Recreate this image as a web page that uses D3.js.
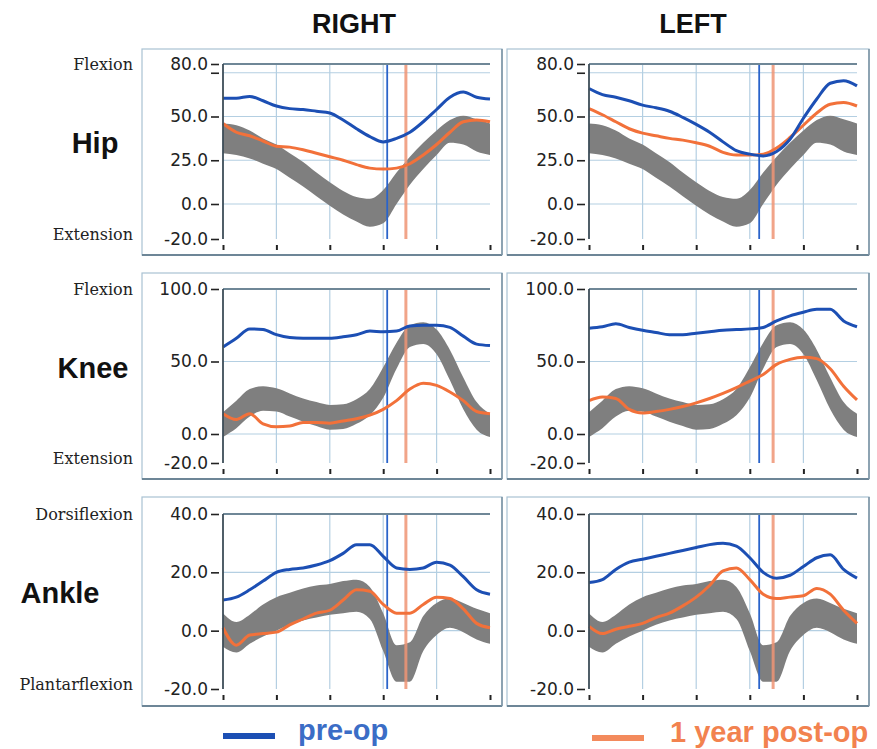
<!DOCTYPE html>
<html>
<head>
<meta charset="utf-8">
<script src="https://cdn.jsdelivr.net/npm/d3@7"></script>
<style>
  body { margin: 0; background: #fff; }
  svg { display: block; }
</style>
</head>
<body>
<script>
// gait cycle, percent
var gaitPct = [0, 5, 10, 15, 20, 25, 30, 35, 40, 45, 50, 55, 60, 65, 70, 75, 80, 85, 90, 95, 100]
var xTicks = [0, 20, 40, 60, 80, 100]

// normal band (mean +/- sd), same for both sides
var hipBandHi = [46, 45, 42, 37.5, 34, 29, 24, 18, 12.5, 7.5, 4, 3, 8, 18, 27, 35, 42, 48, 50.5, 48.5, 46]
var hipBandLo = [29, 28, 26, 23, 20, 15, 10, 4.5, -1, -6, -10, -13, -11, 0, 11, 20, 28, 35, 34, 30, 28]
var kneeBandHi = [15, 23, 31, 33, 31.5, 28, 24.5, 22, 20, 20.5, 24, 31, 46, 63, 75, 77, 72, 58, 39, 22, 14]
var kneeBandLo = [-2, 4, 12, 16, 15.5, 12, 8.5, 5.5, 3, 3.5, 7, 13, 25, 45, 60, 62, 55, 37, 17, 3, -2]
var ankleBandHi = [6, 3, 5.5, 9, 11.5, 13, 14.5, 15.5, 16, 17, 17.5, 15, 6, -5, -4, 5, 9.5, 11, 9.5, 7.5, 6]
var ankleBandLo = [-5.5, -7.5, -4.5, -2, 0, 2, 3.5, 4.5, 5.5, 6, 6.5, 4, -7, -17.5, -17.5, -7, -1.5, 1, -0.5, -3, -4.5]

// RIGHT side
var hipRightPre = [60.5, 60.5, 61.5, 59, 56, 54.5, 54, 53, 52, 48, 43, 38.5, 35.5, 37.5, 41, 47, 54, 61, 64, 61, 60]
var hipRightPost = [46, 41, 39, 36, 33, 32.5, 31, 29, 27, 25, 22.5, 20.5, 20, 20.5, 23, 28, 34, 41, 47, 48, 47]
var kneeRightPre = [60, 66, 72.5, 72, 68.5, 66.5, 66, 66, 66, 67, 68.5, 71, 70.5, 71, 74.5, 75, 75, 73.5, 67.5, 62, 61]
var kneeRightPost = [14, 10, 14, 7, 5, 5.5, 8, 8, 7.5, 9, 10.5, 13, 17, 23, 31, 35, 33.5, 29, 23, 15.5, 14]
var ankleRightPre = [10.5, 11.5, 14, 17, 20, 21, 21.5, 22.5, 24, 26.5, 29.5, 29.5, 25.5, 21.5, 21, 21.5, 23.5, 22.5, 18.5, 14, 12.5]
var ankleRightPost = [1, -5, -1.5, -1, -0.5, 2, 4, 6, 7, 10.5, 14, 13.5, 9, 6, 6, 9, 11.5, 11, 7.5, 2.5, 1]

// LEFT side
var hipLeftPre = [66, 62.5, 61, 59, 56.5, 55, 53, 49.5, 45.5, 41, 35.5, 30.5, 28.5, 27.5, 30, 37, 49, 60, 69, 70.5, 67.5]
var hipLeftPost = [54.5, 51, 47, 43, 40.5, 39, 37.5, 36.5, 35, 33, 29.5, 28, 28, 28.5, 32, 38, 45, 52, 57, 58, 56]
var kneeLeftPre = [73, 74, 76, 73.5, 71.5, 70, 68.5, 68.5, 69.5, 70.5, 71.5, 72, 72.5, 73.5, 78, 81.5, 84, 86, 86, 78, 74]
var kneeLeftPost = [23, 25.5, 24.5, 17, 14.5, 15.5, 17, 19, 21.5, 24.5, 28, 32, 36.5, 41, 48, 51.5, 53, 52, 45, 33, 23.5]
var ankleLeftPre = [16.5, 17.5, 21, 23.5, 24.5, 25.5, 26.5, 27.5, 28.5, 29.5, 30, 29, 25, 20, 18, 19, 22, 25, 26, 21, 18]
var ankleLeftPost = [1.5, -1, 0.5, 1.5, 2.5, 4.5, 6, 8.5, 11.5, 15.5, 20.5, 21.5, 17.5, 12.5, 11, 11.5, 12, 14.5, 12.5, 7, 2.5]

// toe-off markers, percent of cycle
var toeOffPre = [61.5, 63.5]
var toeOffPost = [68.5, 68.7]

var sides = ['RIGHT', 'LEFT']

var blue = '#1c4fb4'
var orange = '#f2713a'

var width = 877, height = 749

var cols = [
  { frame: [142, 502], plot: [223, 490], title: 354 },
  { frame: [507, 869], plot: [589, 857], title: 693 }
]

var joints = [
  { name: 'Hip', labelX: 95, top: 'Flexion', bottom: 'Extension',
    domain: [-20, 80], ticks: [80, 75, 50, 25, 0, -20], grid: [75, 50, 25, 0],
    frame: [49, 255], plot: [64, 239],
    bandLo: hipBandLo, bandHi: hipBandHi,
    pre: [hipRightPre, hipLeftPre], post: [hipRightPost, hipLeftPost] },
  { name: 'Knee', labelX: 93, top: 'Flexion', bottom: 'Extension',
    domain: [-20, 100], ticks: [100, 50, 0, -20], grid: [50, 0],
    frame: [273, 479], plot: [289, 463],
    bandLo: kneeBandLo, bandHi: kneeBandHi,
    pre: [kneeRightPre, kneeLeftPre], post: [kneeRightPost, kneeLeftPost] },
  { name: 'Ankle', labelX: 60, top: 'Dorsiflexion', bottom: 'Plantarflexion',
    domain: [-20, 40], ticks: [40, 20, 0, -20], grid: [20, 0],
    frame: [497, 706], plot: [514, 689],
    bandLo: ankleBandLo, bandHi: ankleBandHi,
    pre: [ankleRightPre, ankleLeftPre], post: [ankleRightPost, ankleLeftPost] }
]

var svg = d3.select('body').append('svg')
  .attr('width', width)
  .attr('height', height)
  .style('font-family', 'Liberation Sans, Arial, sans-serif')

// column titles
svg.selectAll('text.side')
  .data(sides)
  .enter().append('text')
  .attr('class', 'side')
  .attr('x', function (d, i) { return cols[i].title })
  .attr('y', 33)
  .attr('text-anchor', 'middle')
  .attr('font-size', 27)
  .attr('font-weight', 'bold')
  .attr('fill', '#111')
  .text(function (d) { return d })

joints.forEach(function (j) {
  // row labels
  svg.append('text')
    .attr('x', j.labelX).attr('y', (j.plot[0] + j.plot[1]) / 2 - 6)
    .attr('text-anchor', 'middle')
    .attr('dominant-baseline', 'middle')
    .attr('font-size', 29).attr('font-weight', 'bold').attr('fill', '#111')
    .text(j.name)

  svg.append('text')
    .attr('x', 133).attr('y', j.plot[0] + 1)
    .attr('text-anchor', 'end').attr('dominant-baseline', 'middle')
    .attr('font-family', 'DejaVu Serif, serif').attr('font-size', 16).attr('fill', '#222')
    .text(j.top)

  svg.append('text')
    .attr('x', 133).attr('y', j.plot[1] - 4)
    .attr('text-anchor', 'end').attr('dominant-baseline', 'middle')
    .attr('font-family', 'DejaVu Serif, serif').attr('font-size', 16).attr('fill', '#222')
    .text(j.bottom)

  cols.forEach(function (c, si) { drawPanel(j, c, si) })
})

function drawPanel (j, c, si) {
  var g = svg.append('g')

  // outer frame
  g.append('rect')
    .attr('x', c.frame[0]).attr('y', j.frame[0])
    .attr('width', c.frame[1] - c.frame[0]).attr('height', j.frame[1] - j.frame[0])
    .attr('fill', '#fff').attr('stroke', '#a9c2d3').attr('stroke-width', 1.2)
  g.append('line')
    .attr('x1', c.frame[0]).attr('x2', c.frame[1])
    .attr('y1', j.frame[1]).attr('y2', j.frame[1])
    .attr('stroke', '#6d8697').attr('stroke-width', 2)
  g.append('line')
    .attr('x1', c.frame[1]).attr('x2', c.frame[1])
    .attr('y1', j.frame[0]).attr('y2', j.frame[1])
    .attr('stroke', '#7d95a5').attr('stroke-width', 1.6)

  var x = d3.scaleLinear().domain([0, 100]).range(c.plot)
  var y = d3.scaleLinear().domain(j.domain).range([j.plot[1], j.plot[0]])

  // grid
  g.selectAll('line.hgrid')
    .data(j.grid)
    .enter().append('line')
    .attr('class', 'hgrid')
    .attr('x1', c.plot[0]).attr('x2', c.plot[1])
    .attr('y1', function (d) { return y(d) }).attr('y2', function (d) { return y(d) })
    .attr('stroke', '#b4cfe2').attr('stroke-width', 1.2)

  g.selectAll('line.vgrid')
    .data(xTicks.slice(1, -1))
    .enter().append('line')
    .attr('class', 'vgrid')
    .attr('x1', function (d) { return x(d) }).attr('x2', function (d) { return x(d) })
    .attr('y1', j.plot[0]).attr('y2', j.plot[1])
    .attr('stroke', '#b4cfe2').attr('stroke-width', 1.2)

  // normal band
  var area = d3.area()
    .x(function (d, i) { return x(gaitPct[i]) })
    .y0(function (d, i) { return y(j.bandLo[i]) })
    .y1(function (d) { return y(d) })
    .curve(d3.curveMonotoneX)

  g.append('path')
    .datum(j.bandHi)
    .attr('d', area)
    .attr('fill', '#7f7f7f')

  // toe-off markers
  g.append('line')
    .attr('x1', x(toeOffPost[si])).attr('x2', x(toeOffPost[si]))
    .attr('y1', j.plot[0]).attr('y2', j.plot[1])
    .attr('stroke', '#ef9474').attr('stroke-opacity', 0.85).attr('stroke-width', 3)
  g.append('line')
    .attr('x1', x(toeOffPre[si])).attr('x2', x(toeOffPre[si]))
    .attr('y1', j.plot[0]).attr('y2', j.plot[1])
    .attr('stroke', '#2a64ca').attr('stroke-width', 1.8)

  var line = d3.line()
    .x(function (d, i) { return x(gaitPct[i]) })
    .y(function (d) { return y(d) })
    .curve(d3.curveMonotoneX)

  g.append('path')
    .datum(j.post[si])
    .attr('d', line)
    .attr('fill', 'none').attr('stroke', orange).attr('stroke-width', 3)

  g.append('path')
    .datum(j.pre[si])
    .attr('d', line)
    .attr('fill', 'none').attr('stroke', blue).attr('stroke-width', 3)

  // top border and left axis line
  g.append('line')
    .attr('x1', c.plot[0]).attr('x2', c.plot[1])
    .attr('y1', j.plot[0]).attr('y2', j.plot[0])
    .attr('stroke', '#6f8797').attr('stroke-width', 1.8)
  g.append('line')
    .attr('x1', c.plot[0]).attr('x2', c.plot[0])
    .attr('y1', j.plot[0]).attr('y2', j.plot[1])
    .attr('stroke', '#3d4d58').attr('stroke-width', 1.8)

  // y axis
  var yAxis = d3.axisLeft(y)
    .tickValues(j.ticks)
    .tickSize(8)
    .tickPadding(3)
    .tickFormat(function (d) { return d === 75 ? '' : d.toFixed(1) })

  var ya = g.append('g')
    .attr('transform', 'translate(' + (c.plot[0] - 4) + ',0)')
    .call(yAxis)
  ya.select('.domain').remove()
  ya.selectAll('line').attr('stroke', '#222').attr('stroke-width', 1.6)
  ya.selectAll('text')
    .attr('font-size', 17).attr('fill', '#222')
    .attr('font-family', 'DejaVu Sans, Verdana, sans-serif')

  // x ticks, no labels
  var xAxis = d3.axisBottom(x)
    .tickValues(xTicks)
    .tickSize(5)
    .tickFormat('')
  var xa = g.append('g')
    .attr('transform', 'translate(0,' + (j.plot[1] + 6) + ')')
    .call(xAxis)
  xa.select('.domain').remove()
  xa.selectAll('line').attr('stroke', '#222').attr('stroke-width', 2)
}

// legend
var legend = [
  { label: 'pre-op', color: blue, text: '#3b6dc6', x: 223, y: 736 },
  { label: '1 year post-op', color: '#f38a5c', text: '#f2824f', x: 592, y: 738 }
]

var lg = svg.selectAll('g.legend')
  .data(legend)
  .enter().append('g')
  .attr('class', 'legend')
  .attr('transform', function (d) { return 'translate(' + d.x + ',' + d.y + ')' })

lg.append('line')
  .attr('x1', 0).attr('x2', 52)
  .attr('stroke', function (d) { return d.color })
  .attr('stroke-width', 6)

lg.append('text')
  .attr('x', function (d, i) { return i === 0 ? 75 : 78 })
  .attr('y', 4)
  .attr('font-size', 29).attr('font-weight', 'bold')
  .attr('fill', function (d) { return d.text })
  .text(function (d) { return d.label })
</script>
</body>
</html>
